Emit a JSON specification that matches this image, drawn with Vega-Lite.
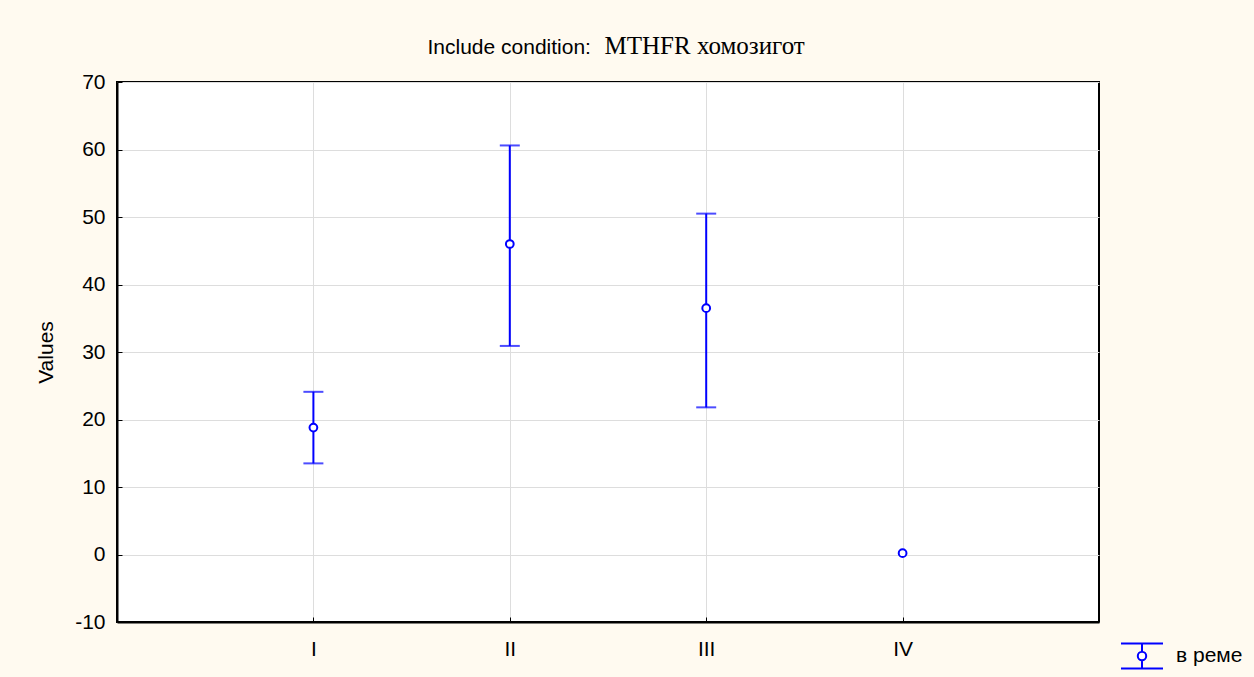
{
  "$schema": "https://vega.github.io/schema/vega-lite/v6.json",
  "autosize": {"type": "none"},
  "width": 982,
  "height": 540,
  "padding": {"left": 117, "top": 82, "right": 155, "bottom": 55},
  "background": "#FFFAF0",
  "config": {
    "view": {"fill": "#FFFFFF", "stroke": "#000000", "strokeWidth": 2},
    "axis": {
      "labelFont": "Liberation Sans",
      "labelFontSize": 21,
      "labelColor": "#000000",
      "titleFont": "Liberation Sans",
      "titleFontSize": 21,
      "titleFontWeight": "normal",
      "titleColor": "#000000",
      "domainColor": "#000000",
      "domainWidth": 2,
      "tickColor": "#000000",
      "tickWidth": 1,
      "gridColor": "#DDDDDD",
      "gridWidth": 1
    },
    "legend": {
      "labelFont": "Liberation Sans",
      "labelFontSize": 21,
      "labelColor": "#000000"
    }
  },
  "data": {
    "values": [
      {"group": "I", "mean": 18.8, "lower": 13.5, "upper": 24.1, "series": "в реме"},
      {"group": "II", "mean": 46.0, "lower": 30.9, "upper": 60.6, "series": "в реме"},
      {"group": "III", "mean": 36.5, "lower": 21.8, "upper": 50.5, "series": "в реме"},
      {"group": "IV", "mean": 0.2, "lower": null, "upper": null, "series": "в реме"}
    ]
  },
  "resolve": {"axis": {"x": "independent"}},
  "layer": [
    {
      "transform": [{"filter": "datum.lower != null"}],
      "mark": {"type": "rule", "color": "#0000FF", "strokeWidth": 2},
      "encoding": {
        "x": {
          "field": "group",
          "type": "ordinal",
          "sort": ["I", "II", "III", "IV"],
          "scale": {"type": "point", "padding": 1, "domain": ["I", "II", "III", "IV"]},
          "axis": {
            "title": "Include condition:",
            "titleAnchor": "start",
            "titleAlign": "left",
            "titleBaseline": "alphabetic",
            "titleX": 310,
            "titleY": -569,
            "labelAngle": 0,
            "grid": true,
            "tickSize": -5,
            "labelPadding": 21
          }
        },
        "y": {
          "field": "lower",
          "type": "quantitative",
          "scale": {"domain": [-10, 70], "nice": false, "zero": false},
          "axis": {"title": "Values", "values": [-10, 0, 10, 20, 30, 40, 50, 60, 70], "grid": true, "tickSize": -5, "labelPadding": 17, "titlePadding": 18, "labelExpr": "replace(datum.label, '−', '-')"}
        },
        "y2": {"field": "upper"}
      }
    },
    {
      "transform": [{"filter": "datum.lower != null"}],
      "mark": {"type": "tick", "color": "#0000FF", "thickness": 2, "size": 20, "orient": "horizontal"},
      "encoding": {
        "x": {"field": "group", "type": "ordinal", "sort": ["I", "II", "III", "IV"], "axis": null},
        "y": {"field": "lower", "type": "quantitative"}
      }
    },
    {
      "transform": [{"filter": "datum.upper != null"}],
      "mark": {"type": "tick", "color": "#0000FF", "thickness": 2, "size": 20, "orient": "horizontal"},
      "encoding": {
        "x": {"field": "group", "type": "ordinal", "sort": ["I", "II", "III", "IV"], "axis": null},
        "y": {"field": "upper", "type": "quantitative"}
      }
    },
    {
      "mark": {"type": "point", "filled": true, "fill": "#FFFFFF", "strokeWidth": 2, "size": 60, "opacity": 1},
      "encoding": {
        "x": {
          "field": "group",
          "type": "ordinal",
          "sort": ["I", "II", "III", "IV"],
          "axis": {
            "orient": "top",
            "title": "MTHFR хомозигот",
            "titleFont": "Liberation Serif",
            "titleFontSize": 25,
            "titleAnchor": "start",
            "titleAlign": "left",
            "titleBaseline": "alphabetic",
            "titleX": 487,
            "titleY": -29,
            "domain": false,
            "ticks": false,
            "labels": false,
            "grid": false
          }
        },
        "y": {"field": "mean", "type": "quantitative"},
        "stroke": {
          "field": "series",
          "type": "nominal",
          "scale": {"range": ["#0000FF"]},
          "legend": {
            "title": null,
            "orient": "none",
            "legendX": 1003,
            "legendY": 552,
            "symbolType": "M-1,-0.6H1M-1,0.6H1M0,-0.6V-0.2M0,0.2V0.6M0.2,0A0.2,0.2 0 1,1 -0.2,0A0.2,0.2 0 1,1 0.2,0Z",
            "symbolSize": 1764,
            "symbolStrokeWidth": 2,
            "symbolFillColor": "transparent",
            "labelOffset": 12
          }
        }
      }
    }
  ]
}
